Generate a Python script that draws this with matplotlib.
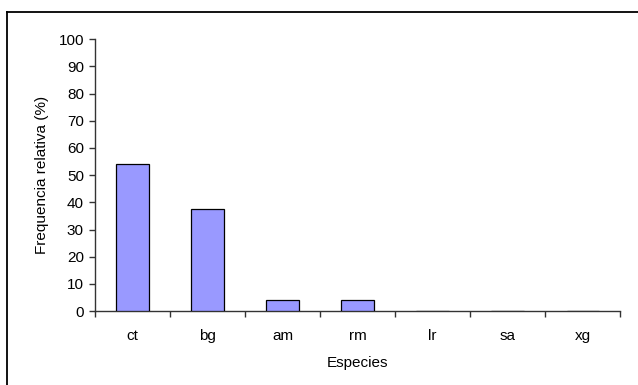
import matplotlib
matplotlib.use("Agg")
import matplotlib.pyplot as plt
from matplotlib.lines import Line2D
import numpy as np

plt.rcParams['font.family'] = ['Liberation Sans', 'DejaVu Sans']

especies = ["ct", "bg", "am", "rm", "lr", "sa", "xg"]
frecuencia = [54.17, 37.5, 4.17, 4.17, 0, 0, 0]
y_ticks = list(range(0, 101, 10))

fs = 11
fig = plt.figure(figsize=(6.38, 3.85), dpi=100)
ax = fig.add_axes([0.149, 0.192, 0.823, 0.706])

x = np.arange(len(especies))
ax.bar(x, frecuencia, width=0.43, color="#9999FF", edgecolor="black", linewidth=0.9, zorder=3)

ax.set_xlim(-0.5, len(especies) - 0.5)
ax.set_ylim(0, 100)
ax.set_yticks(y_ticks)
ax.set_xticks(x)
ax.set_xticklabels(especies, fontsize=fs)
ax.set_xticks(np.arange(-0.5, len(especies), 1.0), minor=True)
ax.tick_params(axis="x", which="major", length=0, pad=13)
ax.tick_params(axis="x", which="minor", length=4, width=1, direction="out", color="#333333")
ax.tick_params(axis="y", length=4, width=1, direction="out", labelsize=fs, pad=4, color="#333333")

for side in ("top", "right"):
    ax.spines[side].set_visible(False)
for side in ("left", "bottom"):
    ax.spines[side].set_linewidth(1)
    ax.spines[side].set_color("#333333")

ax.set_xlabel("Especies", fontsize=fs, labelpad=9)
ax.set_ylabel("Frequencia relativa (%)", fontsize=fs, labelpad=7)

# chart-area frame (top and left edges)
fw, fh = 638, 385
fig.add_artist(Line2D([7 / fw, 1.0], [1 - 12 / fh, 1 - 12 / fh], color="black", lw=1.3, transform=fig.transFigure))
fig.add_artist(Line2D([7 / fw, 7 / fw], [0.0, 1 - 12 / fh], color="black", lw=1.3, transform=fig.transFigure))

fig.savefig("out.png", dpi=100)
